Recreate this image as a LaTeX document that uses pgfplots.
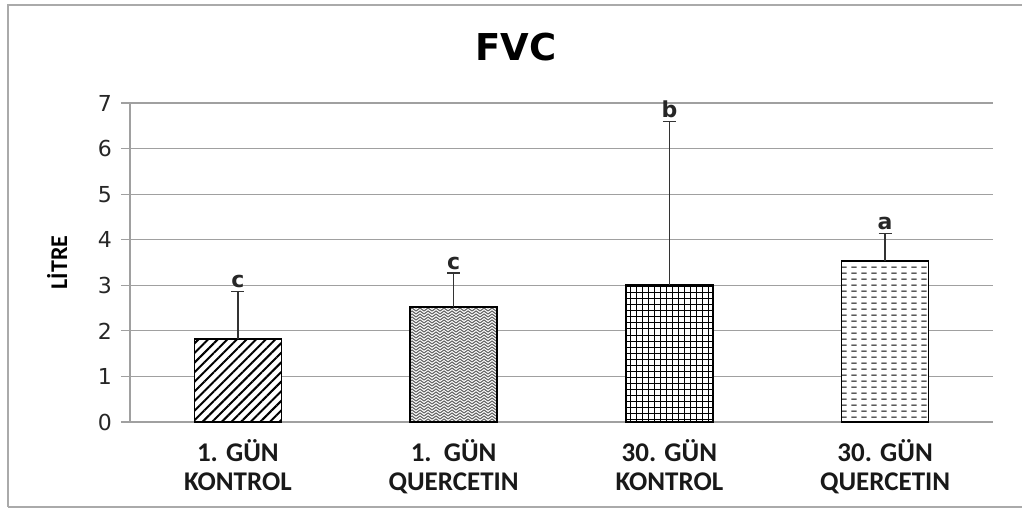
\documentclass[border=0pt]{standalone}
\usepackage{pgfplots}
\pgfplotsset{compat=1.18}
\usepackage{fontspec}
\setmainfont{Carlito}
\newfontfamily\dejavu{DejaVu Sans}
\usetikzlibrary{patterns,patterns.meta}

\pgfdeclarepatternformonly{weave}{\pgfqpoint{-0.5pt}{-0.5pt}}{\pgfqpoint{4.5pt}{3.5pt}}{\pgfqpoint{4pt}{3pt}}{
  \pgfsetlinewidth{0.55pt}
  \pgfpathmoveto{\pgfqpoint{0pt}{0pt}}
  \pgfpathlineto{\pgfqpoint{2pt}{1.5pt}}
  \pgfpathlineto{\pgfqpoint{4pt}{0pt}}
  \pgfpathmoveto{\pgfqpoint{0pt}{1.5pt}}
  \pgfpathlineto{\pgfqpoint{2pt}{3pt}}
  \pgfpathlineto{\pgfqpoint{4pt}{1.5pt}}
  \pgfusepath{stroke}
}
\pgfdeclarepatternformonly{hdash}{\pgfqpoint{0pt}{0pt}}{\pgfqpoint{5pt}{3.2pt}}{\pgfqpoint{5pt}{3.2pt}}{
  \pgfsetlinewidth{0.5pt}
  \pgfpathmoveto{\pgfqpoint{0.8pt}{1.6pt}}
  \pgfpathlineto{\pgfqpoint{3.6pt}{1.6pt}}
  \pgfusepath{stroke}
}

\definecolor{gridgray}{RGB}{160,160,160}
\definecolor{framegray}{RGB}{170,170,170}

\begin{document}
\begin{tikzpicture}
\path[use as bounding box] (0,0) rectangle (511pt,254.5pt);
\draw[framegray, line width=0.6pt] (4pt,1pt) -- (4pt,252pt) -- (512pt,252pt);
\draw[framegray, line width=0.6pt] (4pt,1pt) -- (512pt,1pt);
\node[font=\dejavu\bfseries\fontsize{18.5}{20}\selectfont] at (258pt,231pt) {FVC};
\begin{axis}[
  at={(65pt,43.5pt)}, anchor=south west,
  scale only axis, width=431.5pt, height=159.5pt,
  xmin=-0.5, xmax=3.5, ymin=0, ymax=7,
  ybar, bar width=43.5pt, bar shift=0pt,
  axis x line*=bottom, axis y line*=left,
  axis line style={gridgray, line width=0.6pt},
  ytick={0,1,2,3,4,5,6,7},
  ymajorgrids, grid style={gridgray, line width=0.6pt},
  xtick={0,1,2,3}, xtick style={draw=none},
  ytick style={gridgray, line width=0.6pt},
  tick align=outside, major tick length=4.5pt,
  xticklabels={{1. GÜN\\KONTROL},{1.\ \ GÜN\\QUERCETIN},{30. GÜN\\KONTROL},{30. GÜN\\QUERCETIN}},
  xticklabel style={align=center, font=\bfseries\fontsize{13.5}{14.5}\selectfont, text=black!90, yshift=-0.5pt},
  yticklabel style={font=\dejavu\fontsize{11}{12}\selectfont, text=black!85, xshift=-1pt},
  /pgf/number format/assume math mode=true,
  ylabel={LİTRE}, ylabel style={font=\bfseries\fontsize{12}{12}\selectfont},
  every axis y label/.append style={at={(ticklabel cs:0.5)}, yshift=8.5pt},
  error bars/y dir=plus, error bars/y explicit,
  error bars/error bar style={black!80, line width=0.7pt},
  error bars/error mark options={rotate=90, mark size=3.3pt, line width=0.7pt, black!80},
  clip=false,
]
\addplot[draw=black, line width=0.8pt, preaction={fill=white}, pattern={Lines[angle=45,distance=3.4pt,line width=1pt]}] coordinates {(0,1.82) +- (0,1.05)};
\addplot[draw=black, line width=0.8pt, preaction={fill=white}, pattern=weave, pattern color=black!60] coordinates {(1,2.52) +- (0,0.75)};
\addplot[draw=black, line width=0.8pt, preaction={fill=white}, pattern={Hatch[angle=0,distance=3pt,line width=0.5pt]}] coordinates {(2,3.00) +- (0,3.60)};
\addplot[draw=black, line width=0.8pt, preaction={fill=white}, pattern=hdash] coordinates {(3,3.53) +- (0,0.61)};
\addplot[draw=none, fill=none, error bars/y dir=none, nodes near coords, point meta=explicit symbolic,
  nodes near coords style={font=\dejavu\bfseries\fontsize{11}{12}\selectfont, text=black!85, anchor=south, inner sep=1pt, yshift=0.5pt}]
  table[meta=l] {
x y l
0 2.87 c
1 3.27 c
2 6.60 b
3 4.14 a
};
\end{axis}
\end{tikzpicture}
\end{document}
